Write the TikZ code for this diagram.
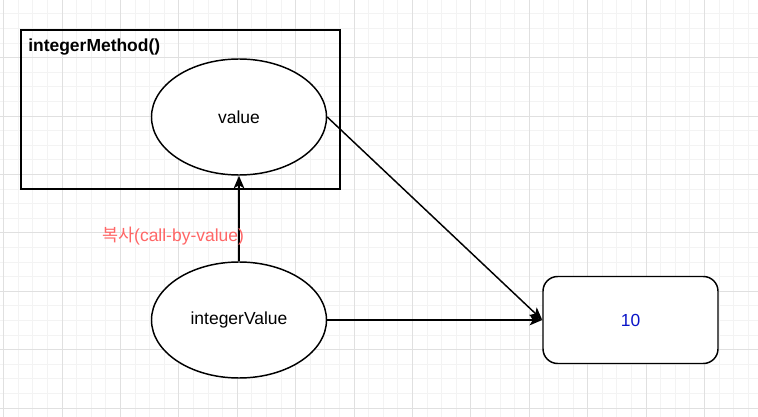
\documentclass[tikz,border=0pt]{standalone}
\usepackage{fontspec}
\setmainfont{Liberation Sans}
\newfontfamily\krfont{Noto Sans CJK KR}
\usetikzlibrary{arrows.meta,shapes.geometric}
\definecolor{gridminor}{RGB}{243,243,243}
\definecolor{gridmajor}{RGB}{224,224,224}
\definecolor{labelpink}{RGB}{255,102,102}
\definecolor{numblue}{RGB}{10,20,200}
\tikzset{
  px/.style={x=0.75pt,y=-0.75pt},
  txt/.style={font=\fontsize{13.1}{15.7}\selectfont},
  oval/.style={draw,ellipse,line width=1.1pt,fill=white,minimum width=131.25pt,minimum height=87pt,inner sep=0pt,txt},
  frame/.style={draw,line width=1.1pt,minimum width=239.25pt,minimum height=119.25pt,inner sep=0pt},
  valbox/.style={draw,rounded corners=11pt,line width=1.1pt,fill=white,minimum width=131.25pt,minimum height=65.25pt,inner sep=0pt,txt},
  conn/.style={line width=1.1pt,-{Stealth[length=9.5pt,width=8pt,inset=2.4pt]}},
}
\begin{document}
\begin{tikzpicture}[px]
\useasboundingbox (0,0) rectangle (758,417);
\fill[white] (0,0) rectangle (758,417);
\begin{scope}
\clip (0,0) rectangle (758,417);
\foreach \i in {0,...,52} \draw[gridminor,line width=0.75pt] ({3.6+\i*14.6},0) -- ({3.6+\i*14.6},417);
\foreach \j in {0,...,29} \draw[gridminor,line width=0.75pt] (0,{-0.6+\j*14.6}) -- (758,{-0.6+\j*14.6});
\foreach \i in {0,...,13} \draw[gridmajor,line width=0.75pt] ({3.6+\i*58.4},0) -- ({3.6+\i*58.4},417);
\foreach \j in {0,...,7} \draw[gridmajor,line width=0.75pt] (0,{-0.6+\j*58.4}) -- (758,{-0.6+\j*58.4});
\end{scope}

\node[frame] (method) at (180.5,109.5) {};
\node[txt,font=\fontsize{13.1}{15.7}\selectfont\bfseries,anchor=base west,inner sep=0pt] (title) at (28,52) {integerMethod()};
\node[oval] (value) at (239,117) {\raisebox{-1.5pt}{value}};
\node[oval] (iv) at (239,320) {\raisebox{-1.5pt}{integerValue}};
\node[valbox,text=numblue] (ten) at (630.5,320) {\raisebox{-1.5pt}{10}};

\draw[conn] (iv.north) -- (value.south);
\draw[conn] (value.east) -- (ten.west);
\draw[conn] (iv.east) -- (ten.west);

\node[txt,text=labelpink,inner sep=0pt] (copy) at (173,236) {{\krfont 복사}(call-by-value)};
\end{tikzpicture}
\end{document}
